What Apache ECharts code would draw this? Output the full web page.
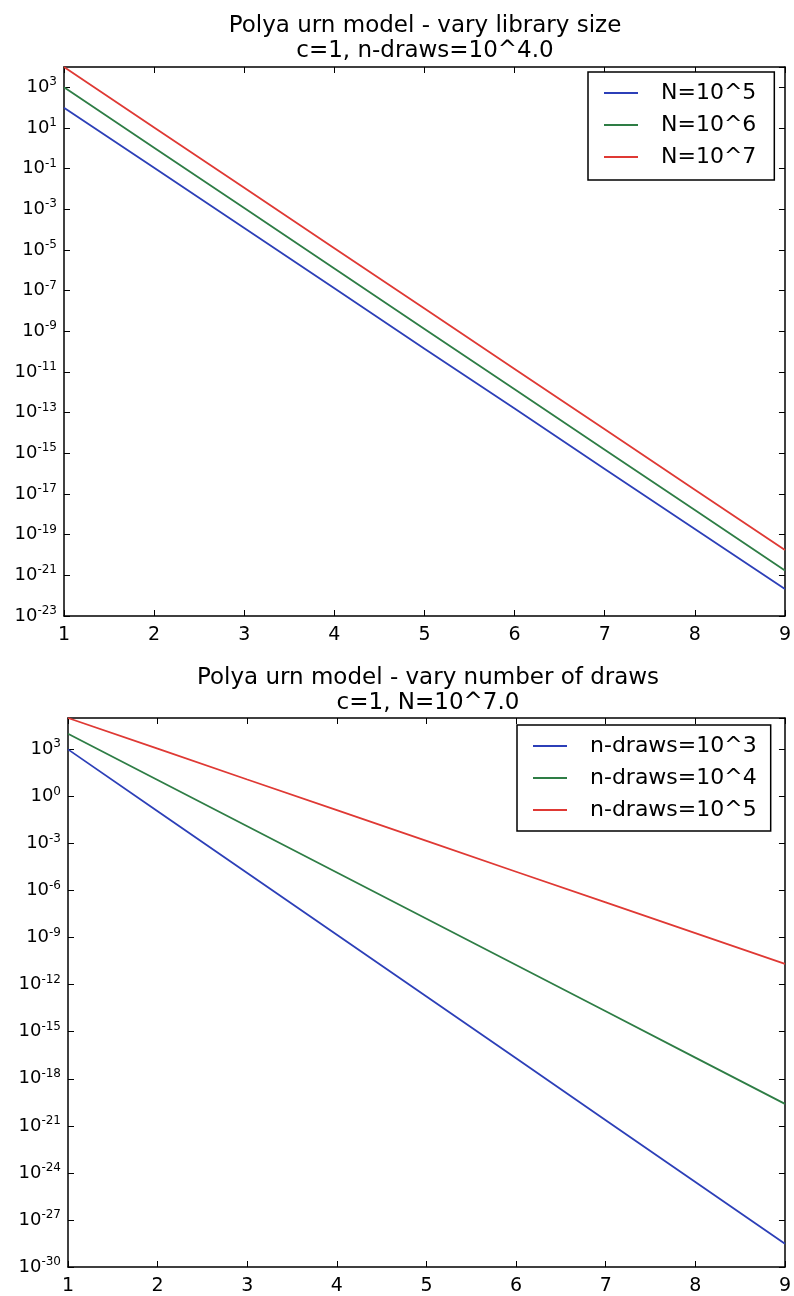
<!DOCTYPE html>
<html><head><meta charset="utf-8">
<script src="https://cdn.jsdelivr.net/npm/echarts@6/dist/echarts.min.js"></script>
<style>html,body{margin:0;padding:0;background:#fff}#c{width:794px;height:1296px}</style>
</head><body><div id="c"></div>
<script>
// ---------- data ----------
const xValues = [1, 2, 3, 4, 5, 6, 7, 8, 9];

const topTitle = 'Polya urn model - vary library size';
const topSubtitle = 'c=1, n-draws=10^4.0';
const topNames = ['N=10^5', 'N=10^6', 'N=10^7'];
const topN5 = [1e2, 1.1e-1, 1.2e-4, 1.3e-7, 1.4e-10, 1.6e-13, 1.7e-16, 1.9e-19, 2.1e-22];
const topN6 = [1e3, 1.07, 1.15e-3, 1.23e-6, 1.32e-9, 1.41e-12, 1.51e-15, 1.62e-18, 1.74e-21];
const topN7 = [1e4, 10.7, 1.15e-2, 1.23e-5, 1.32e-8, 1.41e-11, 1.51e-14, 1.62e-17, 1.74e-20];
const topYTickExponents = [-23, -21, -19, -17, -15, -13, -11, -9, -7, -5, -3, -1, 1, 3];

const botTitle = 'Polya urn model - vary number of draws';
const botSubtitle = 'c=1, N=10^7.0';
const botNames = ['n-draws=10^3', 'n-draws=10^4', 'n-draws=10^5'];
const botD3 = [1e3, 1.15e-1, 1.32e-5, 1.51e-9, 1.74e-13, 2.0e-17, 2.29e-21, 2.63e-25, 3.02e-29];
const botD4 = [1e4, 11.2, 1.26e-2, 1.41e-5, 1.58e-8, 1.78e-11, 2.0e-14, 2.24e-17, 2.51e-20];
const botD5 = [1e5, 1.1e3, 12, 1.32e-1, 1.45e-3, 1.58e-5, 1.74e-7, 1.91e-9, 2.09e-11];
const botYTickExponents = [-30, -27, -24, -21, -18, -15, -12, -9, -6, -3, 0, 3];

const colors = ['#2c3fb8', '#2e7d45', '#df3934'];
const FONT = 'DejaVu Sans';

// ---------- helpers ----------
// y axes are value axes over decades (log10), so each value is placed via log10
function pairs(ys) { return xValues.map((x, i) => [x, Math.log10(ys[i])]); }

function expLabel(allowed) {
  return function (v) {
    const e = Math.round(v);
    if (allowed.indexOf(e) < 0) return '';
    return '{b|10}{s|' + e + '}';
  };
}
const richSup = {
  b: { fontSize: 18, lineHeight: 22, fontFamily: FONT, color: '#000' },
  s: { fontSize: 12, lineHeight: 12, verticalAlign: 'top', fontFamily: FONT, color: '#000' }
};

function yAxis(gi, min, max, interval, pos, allowed) {
  return {
    type: 'value', gridIndex: gi, position: pos, min: min, max: max, interval: interval,
    axisLine: { show: true, onZero: false, lineStyle: { color: '#000', width: 1.5 } },
    axisTick: { show: true, inside: true, length: 6, lineStyle: { color: '#000', width: 1 } },
    minorTick: { show: false }, splitLine: { show: false },
    axisLabel: allowed ? { show: true, showMaxLabel: false, margin: 7, formatter: expLabel(allowed), rich: richSup }
                       : { show: false }
  };
}
function xAxis(gi, pos, showLabel) {
  return {
    type: 'value', gridIndex: gi, position: pos, min: 1, max: 9, interval: 1,
    axisLine: { show: true, onZero: false, lineStyle: { color: '#000', width: 1.5 } },
    axisTick: { show: true, inside: true, length: 6, lineStyle: { color: '#000', width: 1 } },
    splitLine: { show: false },
    axisLabel: { show: showLabel, margin: 10, fontSize: 19, fontFamily: FONT, color: '#000' }
  };
}
function line(name, ys, xi, yi, color) {
  return { type: 'line', name: name, xAxisIndex: xi, yAxisIndex: yi, data: pairs(ys),
    symbol: 'none', smooth: false, lineStyle: { color: color, width: 1.8 }, itemStyle: { color: color },
    emphasis: { disabled: true }, z: 3 };
}
function legend(names, left, top, padding) {
  return {
    data: names, orient: 'vertical', left: left, top: top, padding: padding, itemGap: 6,
    itemWidth: 34, itemHeight: 2, icon: 'rect',
    borderColor: '#000', borderWidth: 1.5, borderRadius: 0, backgroundColor: '#fff',
    textStyle: { fontSize: 22, fontFamily: FONT, color: '#000', lineHeight: 26, padding: [0, 0, 0, 18] },
    selectedMode: false, z: 10
  };
}

const chart = echarts.init(document.getElementById('c'), null, { renderer: 'canvas' });
chart.setOption({
  animation: false,
  backgroundColor: '#fff',
  title: [
    { text: topTitle + '\n' + topSubtitle, left: 425, top: 14, textAlign: 'center', padding: 0,
      textStyle: { fontSize: 23, lineHeight: 25, fontWeight: 'normal', fontFamily: FONT, color: '#000' } },
    { text: botTitle + '\n' + botSubtitle, left: 428, top: 666, textAlign: 'center', padding: 0,
      textStyle: { fontSize: 23, lineHeight: 25, fontWeight: 'normal', fontFamily: FONT, color: '#000' } }
  ],
  grid: [
    { left: 64, top: 67, width: 722, height: 549, show: false },
    { left: 68, top: 718, width: 720, height: 553, show: false }
  ],
  xAxis: [xAxis(0, 'bottom', true), xAxis(0, 'top', false), xAxis(1, 'bottom', true), xAxis(1, 'top', false)],
  yAxis: [
    yAxis(0, -23, 4, 2, 'left', topYTickExponents), yAxis(0, -23, 4, 2, 'right', null),
    yAxis(1, -30, 5, 3, 'left', botYTickExponents), yAxis(1, -30, 5, 3, 'right', null)
  ],
  legend: [
    legend(topNames, 588, 72, [8, 18, 10, 16]),
    legend(botNames, 517, 725, [8, 14, 8, 16])
  ],
  series: [
    line(topNames[0], topN5, 0, 0, colors[0]),
    line(topNames[1], topN6, 0, 0, colors[1]),
    line(topNames[2], topN7, 0, 0, colors[2]),
    line(botNames[0], botD3, 2, 2, colors[0]),
    line(botNames[1], botD4, 2, 2, colors[1]),
    line(botNames[2], botD5, 2, 2, colors[2])
  ]
});
</script></body></html>
